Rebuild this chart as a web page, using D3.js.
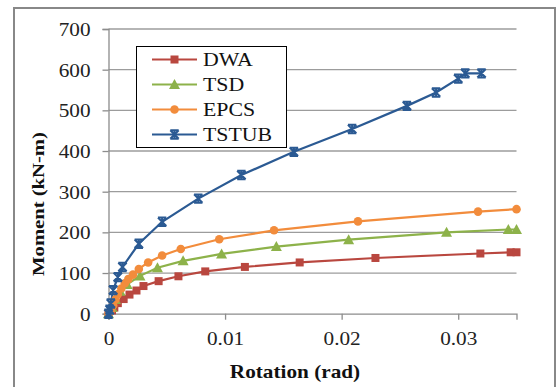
<!DOCTYPE html>
<html><head><meta charset="utf-8">
<script src="https://cdn.jsdelivr.net/npm/d3@7"></script>
<style>html,body{margin:0;padding:0;background:#fff;}svg{display:block;}</style>
</head><body>
<svg id="chart" width="560" height="387"></svg>
<script>
const seriesNames = ["DWA", "TSD", "EPCS", "TSTUB"];
const seriesColors = ["#B9473F", "#8DB24A", "#F28C3C", "#2B5A93"];
const seriesMarkers = ["square", "triangle", "circle", "star"];

const dwaRot = [0, 0.0003, 0.0005, 0.0008, 0.0013, 0.0018, 0.0024, 0.0030, 0.0043, 0.0060, 0.0083, 0.0117, 0.0164, 0.0229, 0.0319, 0.0345, 0.0350];
const dwaMom = [0, 8, 15, 26, 36, 47, 57, 68, 80, 92, 104, 115, 126, 137, 148, 151, 151];

const tsdRot = [0, 0.0003, 0.0006, 0.0010, 0.0016, 0.0027, 0.0042, 0.0064, 0.0097, 0.0144, 0.0206, 0.0290, 0.0343, 0.0350];
const tsdMom = [0, 15, 35, 55, 72, 93, 113, 130, 147, 165, 182, 200, 207, 207];

const epcsRot = [0, 0.0002, 0.0004, 0.0006, 0.0008, 0.0011, 0.0014, 0.0017, 0.0021, 0.0026, 0.0034, 0.0046, 0.0062, 0.0095, 0.0142, 0.0214, 0.0317, 0.0350];
const epcsMom = [0, 8, 20, 35, 48, 62, 75, 85, 96, 110, 126, 143, 159, 183, 205, 227, 251, 257];

const tstubRot = [0, 0.0001, 0.0002, 0.0004, 0.0008, 0.0012, 0.0026, 0.0046, 0.0077, 0.0114, 0.0159, 0.0209, 0.0256, 0.0281, 0.0300, 0.0306, 0.0320];
const tstubMom = [0, 10, 25, 58, 90, 115, 172, 226, 283, 341, 398, 454, 511, 544, 578, 591, 591];

const xTicks = [0, 0.01, 0.02, 0.03];
const xTickLabels = ["0", "0.01", "0.02", "0.03"];
const yTicks = [0, 100, 200, 300, 400, 500, 600, 700];
const xTitle = "Rotation (rad)";
const yTitle = "Moment (kN-m)";

const rots = [dwaRot, tsdRot, epcsRot, tstubRot];
const moms = [dwaMom, tsdMom, epcsMom, tstubMom];
const series = seriesNames.map((n, i) => ({
  name: n, color: seriesColors[i], marker: seriesMarkers[i],
  pts: rots[i].map((r, j) => ({x: r, y: moms[i][j]}))
}));

const svg = d3.select("#chart");
const font = "'Liberation Serif','Times New Roman',serif";
const SX = 1.18;

// outer frame
svg.append("rect").attr("x", 14).attr("y", 8).attr("width", 541).attr("height", 384)
  .attr("fill", "#fff").attr("stroke", "#888").attr("stroke-width", 2);

const L = 108.5, R = 516.5, T = 29, B = 313.7;
const x = d3.scaleLinear().domain([0, 0.035]).range([L, R]);
const y = d3.scaleLinear().domain([0, 700]).range([B, T]);

// gridlines
svg.append("g").selectAll("line").data(yTicks.slice(1)).join("line")
  .attr("x1", L).attr("x2", R).attr("y1", d => y(d)).attr("y2", d => y(d))
  .attr("stroke", "#9c9c9c").attr("stroke-width", 1.3);

// axes
const yAxis = d3.axisLeft(y).tickValues(yTicks).tickSize(6).tickFormat(d3.format("d"));
const gy = svg.append("g").attr("transform", `translate(${L},0)`).call(yAxis);
const xAxis = d3.axisBottom(x).tickValues(xTicks).tickSize(6).tickFormat((d, i) => xTickLabels[i]);
const gx = svg.append("g").attr("transform", `translate(0,${B})`).call(xAxis);
[gx, gy].forEach(g => {
  g.select(".domain").attr("stroke", "#8c8c8c").attr("stroke-width", 1.3);
  g.selectAll(".tick line").attr("stroke", "#8c8c8c").attr("stroke-width", 1.3);
  g.selectAll("text").attr("font-family", font).attr("font-size", 18).attr("fill", "#222");
});
gy.selectAll(".tick text").attr("x", null).attr("dy", null)
  .attr("text-anchor", "end").attr("dominant-baseline", "central")
  .attr("transform", `translate(-18,0) scale(${SX},1)`);
gx.selectAll(".tick text").attr("y", null).attr("dy", null)
  .attr("text-anchor", "middle")
  .attr("transform", `translate(0,31) scale(${SX},1)`);

// lines
const line = d3.line().x(d => x(d.x)).y(d => y(d.y));
const plot = svg.append("g");
series.forEach(s => {
  plot.append("path").datum(s.pts).attr("d", line)
    .attr("fill", "none").attr("stroke", s.color).attr("stroke-width", 2.2);
});

function drawMarker(g, type, color, cx, cy) {
  if (type === "square") {
    g.append("rect").attr("x", cx - 4).attr("y", cy - 4).attr("width", 8).attr("height", 8).attr("fill", color);
  } else if (type === "triangle") {
    g.append("path").attr("d", `M${cx},${cy - 5.5}L${cx + 5.5},${cy + 4.5}L${cx - 5.5},${cy + 4.5}Z`).attr("fill", color);
  } else if (type === "circle") {
    g.append("circle").attr("cx", cx).attr("cy", cy).attr("r", 4.3).attr("fill", color);
  } else {
    const r = 4.2;
    g.append("path").attr("d", `M${cx - r},${cy - r}L${cx + r},${cy + r}M${cx - r},${cy + r}L${cx + r},${cy - r}M${cx - r},${cy - r}L${cx + r},${cy - r}M${cx - r},${cy + r}L${cx + r},${cy + r}M${cx},${cy - r}L${cx},${cy + r}`)
      .attr("stroke", color).attr("stroke-width", 2).attr("fill", "none");
  }
}
series.forEach(s => {
  const g = plot.append("g");
  s.pts.forEach(p => drawMarker(g, s.marker, s.color, x(p.x), y(p.y)));
});

// legend
const lg = svg.append("g");
lg.append("rect").attr("x", 136.5).attr("y", 46.5).attr("width", 150).attr("height", 101)
  .attr("fill", "#fff").attr("stroke", "#000").attr("stroke-width", 1);
const legY = d3.scalePoint().domain(seriesNames).range([59.5, 134.5]);
series.forEach(s => {
  const yy = legY(s.name);
  lg.append("line").attr("x1", 152).attr("x2", 197).attr("y1", yy).attr("y2", yy)
    .attr("stroke", s.color).attr("stroke-width", 2.2);
  drawMarker(lg, s.marker, s.color, 174.5, yy);
  lg.append("text").attr("transform", `translate(203,${yy}) scale(${SX},1)`)
    .attr("dominant-baseline", "central").attr("font-family", font).attr("font-size", 18.5)
    .attr("fill", "#111").text(s.name);
});

// axis titles
svg.append("text").attr("transform", `translate(295,378) scale(${SX},1)`)
  .attr("text-anchor", "middle").attr("font-family", font).attr("font-weight", "bold")
  .attr("font-size", 18).attr("fill", "#111").text(xTitle);
svg.append("text").attr("transform", `translate(44,204) rotate(-90) scale(${SX},1)`)
  .attr("text-anchor", "middle").attr("font-family", font).attr("font-weight", "bold")
  .attr("font-size", 17.5).attr("fill", "#111").text(yTitle);
</script>
</body></html>
